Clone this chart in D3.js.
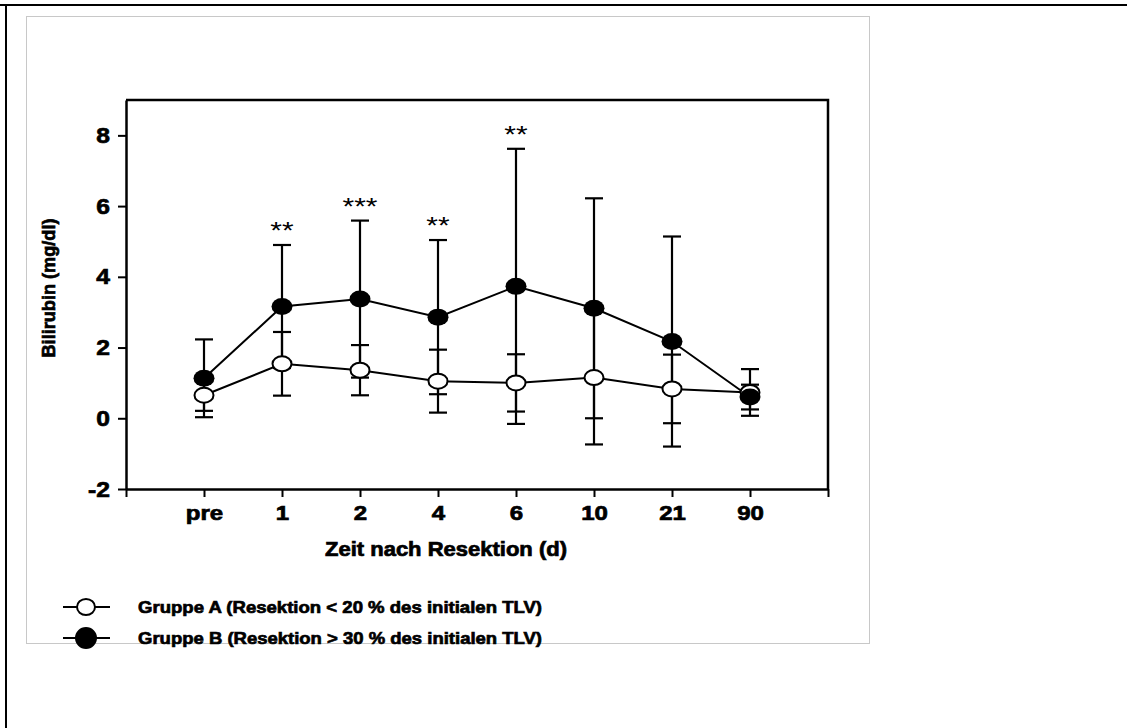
<!DOCTYPE html>
<html>
<head>
<meta charset="utf-8">
<script src="https://cdn.jsdelivr.net/npm/d3@7"></script>
<style>
  body { margin: 0; background: #fff; }
  text { font-family: "Liberation Sans", Arial, sans-serif; }
  text.heavy { stroke: #000; stroke-width: 0.7px; }
</style>
</head>
<body>
<div id="chart"></div>
<script>
// Data
const categories = ["pre", "1", "2", "4", "6", "10", "21", "90"]
const meanA = [0.65, 1.54, 1.36, 1.05, 1.00, 1.15, 0.83, 0.73]
const sdA   = [0.44, 0.90, 0.71, 0.89, 0.81, 1.89, 0.97, 0.66]
const meanB = [1.13, 3.16, 3.37, 2.86, 3.73, 3.11, 2.17, 0.60]
const sdB   = [1.10, 1.74, 2.22, 2.18, 3.89, 3.11, 2.97, 0.35]
const stars = ["", "**", "***", "**", "**", "", "", ""]
const yTicks = [-2, 0, 2, 4, 6, 8]
const legendLabels = ["Gruppe A (Resektion < 20 % des initialen TLV)",
                      "Gruppe B (Resektion > 30 % des initialen TLV)"]

const W = 1127, H = 728
const svg = d3.select("#chart").append("svg")
    .attr("width", W).attr("height", H)

// the source picture is a bit wider than tall, so text is stretched sideways
function widen(sel, f) {
    sel.each(function() {
        const len = this.getComputedTextLength()
        if (len > 0) d3.select(this).attr("textLength", len * f).attr("lengthAdjust", "spacingAndGlyphs")
    })
}

// outer frame (top and left only) and grey inner box
svg.append("line").attr("x1", 0).attr("x2", W).attr("y1", 5).attr("y2", 5)
    .attr("stroke", "#000").attr("stroke-width", 2)
svg.append("line").attr("x1", 6).attr("x2", 6).attr("y1", 4).attr("y2", H)
    .attr("stroke", "#000").attr("stroke-width", 2)
svg.append("rect").attr("x", 26.5).attr("y", 16.5).attr("width", 843).attr("height", 627)
    .attr("fill", "none").attr("stroke", "#c8c8c8").attr("stroke-width", 1)

// scales
const x = d3.scaleLinear().domain([0, 9]).range([126, 828])
const y = d3.scaleLinear().domain([-2, 9]).range([489, 100])
const xi = i => x(i + 1)

// axes
const yAxis = svg.append("g").attr("transform", "translate(126,0)")
    .call(d3.axisLeft(y).tickValues(yTicks).tickSize(8).tickPadding(8).tickSizeOuter(0)
        .tickFormat(d => String(d)))
const xAxis = svg.append("g").attr("transform", "translate(0,489)")
    .call(d3.axisBottom(x).tickValues(d3.range(10)).tickSize(8).tickPadding(9).tickSizeOuter(0)
        .tickFormat(i => categories[i - 1] || ""))

;[yAxis, xAxis].forEach(a => {
    a.attr("font-family", null)
    a.select(".domain").attr("stroke-width", 2.5)
    a.selectAll(".tick line").attr("stroke-width", 2)
    a.selectAll("text").attr("font-weight", "bold").attr("fill", "#000").attr("class", "heavy")
})
yAxis.selectAll("text").style("font-size", "22px").call(widen, 1.12)
xAxis.selectAll("text").style("font-size", "20px").call(widen, 1.2)

// top and right frame of plot
svg.append("path")
    .attr("d", `M${x(0)},${y(9)}H${x(9)}V${y(-2)}`)
    .attr("fill", "none").attr("stroke", "#000").attr("stroke-width", 2.5)

// axis titles
svg.append("text").attr("class", "heavy").attr("x", 446).attr("y", 556).attr("text-anchor", "middle")
    .style("font-size", "19.5px").attr("font-weight", "bold")
    .text("Zeit nach Resektion (d)").attr("textLength", 242).attr("lengthAdjust", "spacingAndGlyphs")
svg.append("text").attr("class", "heavy").attr("transform", "translate(55,288) rotate(-90)")
    .attr("text-anchor", "middle").style("font-size", "18.5px").attr("font-weight", "bold")
    .text("Bilirubin (mg/dl)").attr("textLength", 139).attr("lengthAdjust", "spacingAndGlyphs")

// error bars
function errorBars(mean, sd) {
    const g = svg.append("g").attr("stroke", "#000").attr("stroke-width", 2.2)
    mean.forEach((m, i) => {
        const cx = xi(i)
        g.append("line").attr("x1", cx).attr("x2", cx)
            .attr("y1", y(m - sd[i])).attr("y2", y(m + sd[i]))
        ;[m - sd[i], m + sd[i]].forEach(v => {
            g.append("line").attr("x1", cx - 9).attr("x2", cx + 9)
                .attr("y1", y(v)).attr("y2", y(v))
        })
    })
}
errorBars(meanB, sdB)
errorBars(meanA, sdA)

// lines
const line = d3.line().x((d, i) => xi(i)).y(d => y(d))
;[meanB, meanA].forEach(s => {
    svg.append("path").datum(s).attr("d", line)
        .attr("fill", "none").attr("stroke", "#000").attr("stroke-width", 2)
})

// markers
svg.append("g").selectAll("ellipse").data(meanA).join("ellipse")
    .attr("cx", (d, i) => xi(i)).attr("cy", d => y(d))
    .attr("rx", 9.5).attr("ry", 7.5)
    .attr("fill", "#fff").attr("stroke", "#000").attr("stroke-width", 2)
svg.append("g").selectAll("ellipse").data(meanB).join("ellipse")
    .attr("cx", (d, i) => xi(i)).attr("cy", d => y(d))
    .attr("rx", 10.5).attr("ry", 8.5)
    .attr("fill", "#000")

// significance stars above the upper error bar of group B
svg.append("g").selectAll("text").data(stars).join("text")
    .attr("x", (d, i) => xi(i)).attr("y", (d, i) => y(meanB[i] + sdB[i]) - 6)
    .attr("text-anchor", "middle").style("font-size", "23px")
    .text(d => d)
    .call(widen, 1.3)

// legend
const legend = svg.append("g")
legendLabels.forEach((lab, i) => {
    const ly = i === 0 ? 607 : 638
    legend.append("line").attr("x1", 63).attr("x2", 110).attr("y1", ly).attr("y2", ly)
        .attr("stroke", "#000").attr("stroke-width", 2)
    legend.append("ellipse").attr("cx", 86).attr("cy", ly)
        .attr("rx", i === 0 ? 9 : 10).attr("ry", i === 0 ? 8 : 10)
        .attr("fill", i === 0 ? "#fff" : "#000")
        .attr("stroke", "#000").attr("stroke-width", 2)
    legend.append("text").attr("class", "heavy").attr("x", 138).attr("y", ly + 6)
        .style("font-size", "17px").attr("font-weight", "bold")
        .text(lab).attr("textLength", 404).attr("lengthAdjust", "spacingAndGlyphs")
})
</script>
</body>
</html>
